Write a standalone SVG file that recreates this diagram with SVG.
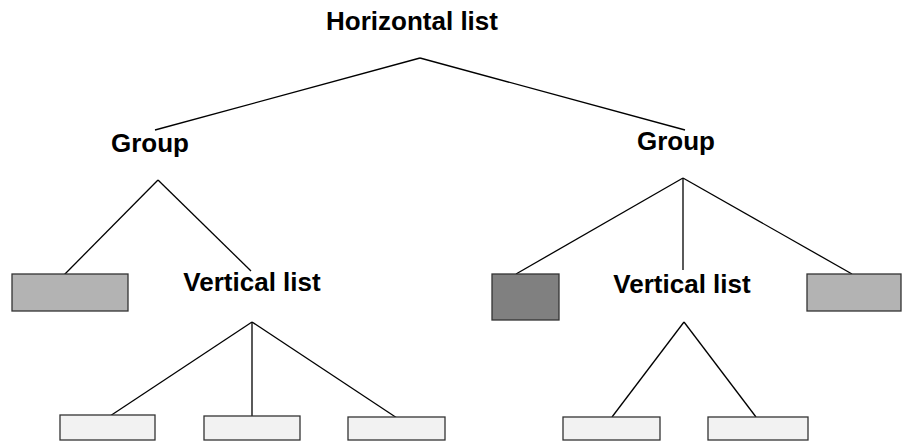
<svg xmlns="http://www.w3.org/2000/svg" width="912" height="442" viewBox="0 0 912 442">
<style>
.t{font-family:"Liberation Sans",Arial,sans-serif;font-weight:bold;font-size:26px;fill:#000;text-anchor:middle}
.c line{stroke:#000;stroke-width:1.3}
.b{stroke:#333;stroke-width:1.3}
.lg{fill:#b3b3b3}.dk{fill:#808080}.wh{fill:#f2f2f2}
</style>
<rect width="912" height="442" fill="#fff"/>
<g id="connectors" class="c">
<line x1="420" y1="58" x2="155" y2="130"/>
<line x1="420" y1="58" x2="685" y2="130"/>
<line x1="158" y1="180" x2="63" y2="276"/>
<line x1="158" y1="180" x2="251" y2="271"/>
<line x1="683" y1="178" x2="516" y2="274"/>
<line x1="683" y1="178" x2="683" y2="270"/>
<line x1="683" y1="178" x2="852" y2="274"/>
<line x1="252" y1="322" x2="107" y2="418"/>
<line x1="252" y1="322" x2="252" y2="418"/>
<line x1="252" y1="322" x2="397" y2="418"/>
<line x1="684" y1="322" x2="612" y2="417"/>
<line x1="684" y1="322" x2="756" y2="417"/>
</g>
<g id="hlist"><text class="t" x="412" y="30">Horizontal list</text></g>
<g id="group1"><text class="t" x="150" y="152">Group</text></g>
<g id="group2"><text class="t" x="676" y="150">Group</text></g>
<g id="vlist1"><text class="t" x="252" y="291">Vertical list</text></g>
<g id="vlist2"><text class="t" x="682" y="293">Vertical list</text></g>
<g id="box1"><rect class="b lg" x="12" y="274" width="116" height="37"/></g>
<g id="box2"><rect class="b dk" x="492" y="274" width="67" height="46"/></g>
<g id="box3"><rect class="b lg" x="807" y="274" width="94" height="37"/></g>
<g id="leaf1"><rect class="b wh" x="60" y="415" width="95" height="25"/></g>
<g id="leaf2"><rect class="b wh" x="204" y="416" width="96" height="24"/></g>
<g id="leaf3"><rect class="b wh" x="348" y="417" width="97" height="23"/></g>
<g id="leaf4"><rect class="b wh" x="563" y="417" width="97" height="23"/></g>
<g id="leaf5"><rect class="b wh" x="708" y="417" width="100" height="23"/></g>
</svg>
